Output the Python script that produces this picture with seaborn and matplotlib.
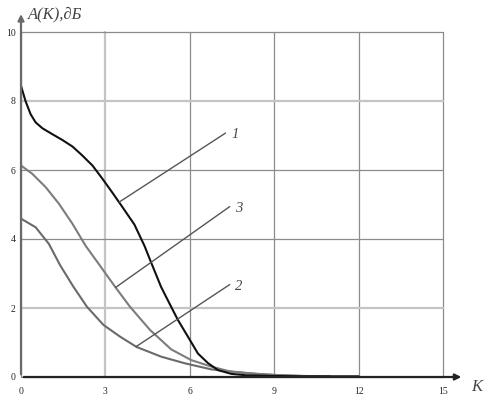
import numpy as np
import pandas as pd
import matplotlib
matplotlib.use('Agg')
import matplotlib.pyplot as plt
import seaborn as sns

# curve 1 (black)
k1 = [0.0, 0.16, 0.34, 0.52, 0.76, 1.11, 1.47, 1.83, 2.18, 2.54, 2.9, 3.26, 3.61, 4.03, 4.39, 4.62,
      4.98, 5.34, 5.58, 5.94, 6.29, 6.65, 7.0, 7.48, 8.0, 9.0, 10.0, 11.0, 12.0]
a1 = [8.44, 8.0, 7.62, 7.38, 7.21, 7.04, 6.87, 6.68, 6.42, 6.13, 5.74, 5.33, 4.92, 4.42, 3.8, 3.33,
      2.61, 2.03, 1.65, 1.16, 0.68, 0.4, 0.2, 0.09, 0.05, 0.03, 0.02, 0.02, 0.02]
# curve 3 (gray, upper)
k3 = [0.0, 0.4, 0.88, 1.35, 1.83, 2.3, 2.69, 3.34, 3.87, 4.59, 5.34, 6.05, 6.77, 7.48, 8.08, 9.0, 10.0, 11.0]
a3 = [6.13, 5.89, 5.5, 5.02, 4.44, 3.8, 3.36, 2.62, 2.04, 1.36, 0.8, 0.49, 0.3, 0.15, 0.11, 0.06, 0.03, 0.02]
# curve 2 (gray, lower)
k2 = [0.0, 0.52, 0.99, 1.39, 1.86, 2.34, 2.93, 3.52, 4.11, 4.98, 5.81, 6.77, 7.72, 8.5, 9.5, 10.5]
a2 = [4.59, 4.34, 3.86, 3.24, 2.62, 2.04, 1.51, 1.17, 0.87, 0.59, 0.4, 0.22, 0.14, 0.08, 0.04, 0.02]

# leader lines: (point on curve) -> (end near label), label text
leaders = [((3.49, 5.07), (7.27, 7.07), '1'),
           ((3.37, 2.6), (7.42, 4.94), '3'),
           ((4.09, 0.88), (7.42, 2.68), '2')]

xticks = [0, 3, 6, 9, 12, 15]
yticks = [0, 2, 4, 6, 8, 10]

sns.set_style('white')
plt.rcParams['font.family'] = ['Liberation Serif', 'DejaVu Serif']

fig = plt.figure(figsize=(4.84, 4.04), dpi=100)
ax = fig.add_axes([21/484, 27/404, 422/484, 345/404])

sns.lineplot(x=k2, y=a2, ax=ax, color='#6a6a6a', lw=1.5, sort=False)
sns.lineplot(x=k3, y=a3, ax=ax, color='#7c7c7c', lw=1.5, sort=False)
sns.lineplot(x=k1, y=a1, ax=ax, color='#111111', lw=1.5, sort=False)

ax.set_xlim(0, 15)
ax.set_ylim(0, 10)
ax.set_xticks(xticks)
ax.set_yticks(yticks)
ax.set_xticklabels([str(t) for t in xticks], fontsize=7)
ax.set_yticklabels([str(t) for t in yticks], fontsize=7)
ax.tick_params(axis='x', length=0, pad=7)
ax.tick_params(axis='y', length=0, pad=4)
ax.grid(True, color='#8c8c8c', lw=0.9)
# some grid lines are lighter and wider in the original
for t, gl in zip(xticks, ax.get_xgridlines()):
    gl.set_clip_on(False)
    if t == 3:
        gl.set_color('#c4c4c4'); gl.set_linewidth(1.6)
for t, gl in zip(yticks, ax.get_ygridlines()):
    gl.set_clip_on(False)
    if t in (2, 8):
        gl.set_color('#c4c4c4'); gl.set_linewidth(1.6)
for s in ax.spines.values():
    s.set_visible(False)

# axis arrows
ax.annotate('', xy=(15.75, 0), xytext=(0, 0), annotation_clip=False,
            arrowprops=dict(arrowstyle='-|>', color='#222222', lw=1.6, mutation_scale=9))
ax.annotate('', xy=(0, 10.6), xytext=(0, 0), annotation_clip=False,
            arrowprops=dict(arrowstyle='-|>', color='#6a6a6a', lw=1.6, mutation_scale=9))

for (x0, y0), (x1, y1), lab in leaders:
    ax.plot([x0, x1], [y0, y1], color='#555555', lw=1.0)
    ax.text(x1 + 0.2, y1 - 0.05, lab, fontsize=10.5, style='italic', color='#444444',
            ha='left', va='center')

ax.text(0.25, 10.52, 'A(K),∂Б', fontsize=12, style='italic', color='#444444',
        ha='left', va='center', clip_on=False)
ax.text(16.0, -0.28, 'K', fontsize=12, style='italic', color='#444444',
        ha='left', va='center', clip_on=False)

fig.savefig('out.png', dpi=100)
